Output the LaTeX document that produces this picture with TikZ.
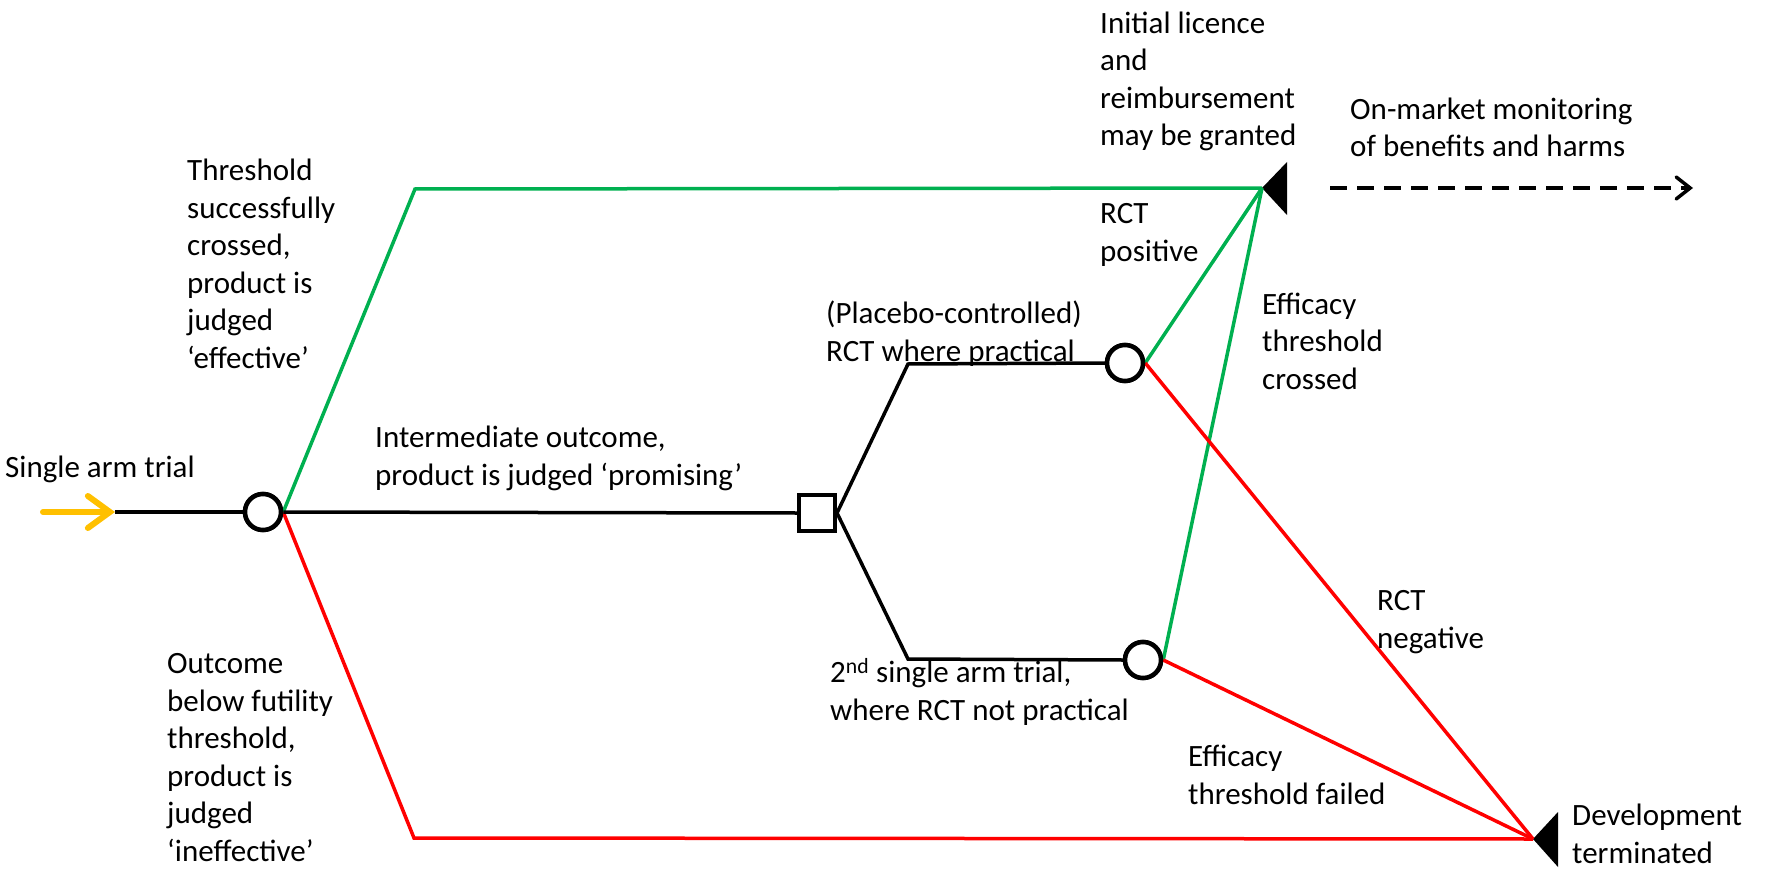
\documentclass[tikz,border=0pt]{standalone}
\usepackage{fontspec}
\setmainfont{Carlito}
\usetikzlibrary{arrows.meta}
\definecolor{gr}{RGB}{0,176,80}
\definecolor{rd}{RGB}{255,0,0}
\definecolor{og}{RGB}{255,192,0}
\begin{document}
\begin{tikzpicture}[x=1pt,y=-1pt,
  lbl/.style={anchor=base west, inner sep=0pt, align=left, font=\fontsize{31}{37.5}\selectfont},
  chance/.style={circle, draw=black, fill=white, line width=4.5pt, minimum size=36pt, inner sep=0pt},
  decision/.style={rectangle, draw=black, fill=white, line width=4pt, minimum size=36pt, inner sep=0pt},
  blk/.style={draw=black, line width=3.5pt},
  grn/.style={draw=gr, line width=3.5pt},
  red/.style={draw=rd, line width=3.5pt},
  term/.style={fill=black}]
\useasboundingbox (0,0) rectangle (1767,880);

% coordinates
\coordinate (start) at (43,512);
\coordinate (arrtip) at (115,512);
\coordinate (gc) at (415,189);
\coordinate (rc) at (414,838);
\coordinate (ub) at (908,364);
\coordinate (lb) at (908,659);
\coordinate (lic) at (1262,188);
\coordinate (dev) at (1533,839);
\coordinate (mstart) at (1330,188);
\coordinate (mend) at (1693,188);

% terminal triangles
\fill[term] (lic) -- ++(25,-26) -- ++(0,53) -- cycle;
\fill[term] (dev) -- ++(25,-27) -- ++(0,55) -- cycle;

% nodes
\node[chance] (c1) at (263,512) {};
\node[decision] (sq) at (817,513) {};
\node[chance] (c2) at (1125,363) {};
\node[chance] (c3) at (1143,660) {};

% connectors
\draw[red] (c1.east) -- (rc) -- (dev);
\draw[grn] (c1.east) -- (gc) -- (lic);
\draw[blk] (arrtip) -- (c1.west);
\draw[blk] (c1.east) -- (sq.west);
\draw[blk] (sq.east) -- (ub) -- (c2.west);
\draw[blk] (sq.east) -- (lb) -- (c3.west);
\draw[grn] (c2.east) -- (lic);
\draw[grn] (c3.east) -- (lic);
\draw[red] (c2.east) -- (dev);
\draw[red] (c3.east) -- (dev);

% redraw nodes on top of the connectors
\node[chance] at (c1) {};
\node[decision] at (sq) {};
\node[chance] at (c2) {};
\node[chance] at (c3) {};

% arrows
\draw[og, line width=6pt, line cap=round, -{Straight Barb[length=22pt,width=32pt,line cap=round]}] (start) -- (arrtip);
\draw[black, line width=3.5pt, dash pattern=on 17pt off 10pt, -{Straight Barb[length=14pt,width=22pt,line cap=round]}] (mstart) -- (mend);

% labels (anchor = baseline of last line)
\node[lbl] (t1) at (5,477) {Single arm trial};
\node[lbl] (t2) at (187,368) {Threshold\\successfully\\crossed,\\product is\\judged\\‘effective’};
\node[lbl] (t3) at (375,485) {Intermediate outcome,\\product is judged ‘promising’};
\node[lbl] (t4) at (167,861) {Outcome\\below futility\\threshold,\\product is\\judged\\‘ineffective’};
\node[lbl] (t5) at (1100,146) {Initial licence\\and\\reimbursement\\may be granted};
\node[lbl] (t6) at (1350,157) {On-market monitoring\\of benefits and harms};
\node[lbl] (t7) at (1100,261) {RCT\\positive};
\node[lbl] (t8) at (826,361) {(Placebo-controlled)\\RCT where practical};
\node[lbl] (t9) at (1262,389) {Efficacy\\threshold\\crossed};
\node[lbl] (t10) at (1377,648) {RCT\\negative};
\node[lbl] (t11) at (830,720) {2\textsuperscript{nd} single arm trial,\\where RCT not practical};
\node[lbl] (t12) at (1188,804) {Efficacy\\threshold failed};
\node[lbl] (t13) at (1572,863) {Development\\terminated};
\end{tikzpicture}
\end{document}
